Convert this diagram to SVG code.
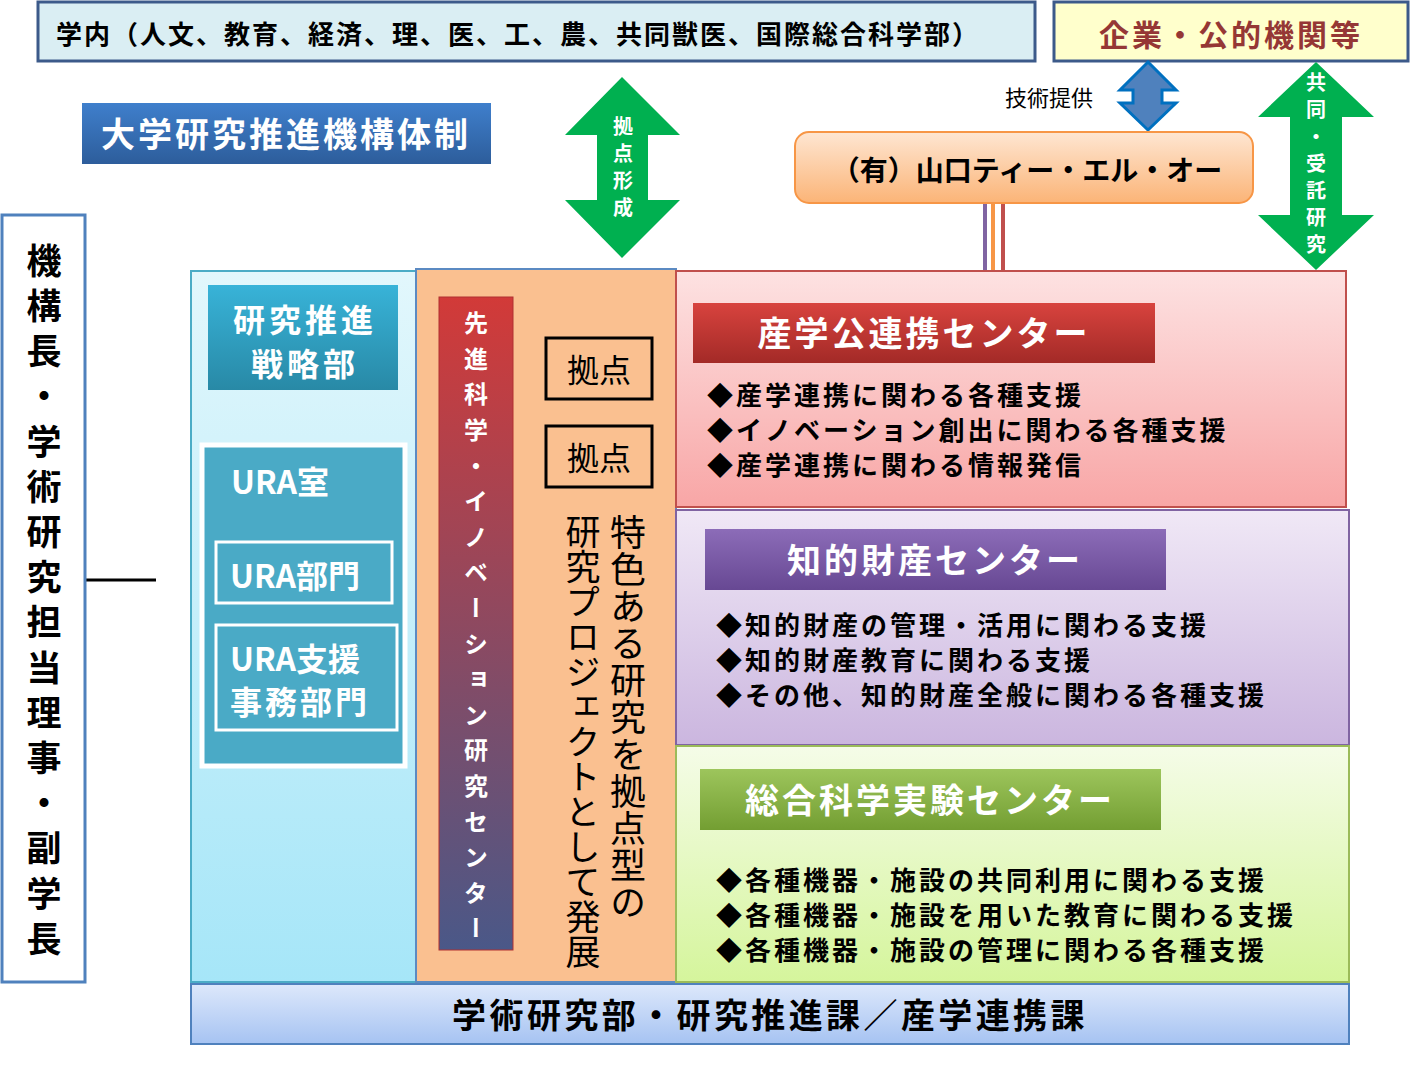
<svg xmlns="http://www.w3.org/2000/svg" width="1410" height="1069" viewBox="0 0 1410 1069">
<style>
text{font-family:"Noto Sans CJK JP","Noto Sans",sans-serif;font-weight:bold}
.v{writing-mode:vertical-rl;text-orientation:upright}
.w{fill:#fff}
.b{font-size:26px;fill:#000;letter-spacing:3px}
.t{font-size:34px;fill:#fff;text-anchor:middle;letter-spacing:3px}
</style>
<defs>
<linearGradient id="gBlue" x1="0" y1="0" x2="0" y2="1"><stop offset="0" stop-color="#3f7fcc"/><stop offset="1" stop-color="#2d5d9b"/></linearGradient>
<linearGradient id="gOr" x1="0" y1="0" x2="0" y2="1"><stop offset="0" stop-color="#fee6d2"/><stop offset="1" stop-color="#fbb477"/></linearGradient>
<linearGradient id="gLB" x1="0" y1="0" x2="0" y2="1"><stop offset="0" stop-color="#e2f7fc"/><stop offset="1" stop-color="#a6e6f8"/></linearGradient>
<linearGradient id="gTeal" x1="0" y1="0" x2="0" y2="1"><stop offset="0" stop-color="#38b3d8"/><stop offset="1" stop-color="#2889a6"/></linearGradient>
<linearGradient id="gRB" x1="0" y1="0" x2="0" y2="1"><stop offset="0" stop-color="#d23a38"/><stop offset="1" stop-color="#4a5888"/></linearGradient>
<linearGradient id="gRed" x1="0" y1="0" x2="0" y2="1"><stop offset="0" stop-color="#fde2e2"/><stop offset="1" stop-color="#f8a6a6"/></linearGradient>
<linearGradient id="gRedT" x1="0" y1="0" x2="0" y2="1"><stop offset="0" stop-color="#d8433e"/><stop offset="1" stop-color="#a32a27"/></linearGradient>
<linearGradient id="gPu" x1="0" y1="0" x2="0" y2="1"><stop offset="0" stop-color="#f0e8f6"/><stop offset="1" stop-color="#cbb6df"/></linearGradient>
<linearGradient id="gPuT" x1="0" y1="0" x2="0" y2="1"><stop offset="0" stop-color="#8c6cb8"/><stop offset="1" stop-color="#674893"/></linearGradient>
<linearGradient id="gGr" x1="0" y1="0" x2="0" y2="1"><stop offset="0" stop-color="#f5fce8"/><stop offset="1" stop-color="#d5f59c"/></linearGradient>
<linearGradient id="gGrT" x1="0" y1="0" x2="0" y2="1"><stop offset="0" stop-color="#9dc55c"/><stop offset="1" stop-color="#739e32"/></linearGradient>
<linearGradient id="gBot" x1="0" y1="0" x2="0" y2="1"><stop offset="0" stop-color="#dde8fb"/><stop offset="1" stop-color="#a6c3f2"/></linearGradient>
</defs>

<g id="gakunai"><rect x="38" y="2" width="997" height="59" fill="#daeef3" stroke="#3c5a8a" stroke-width="3"/>
<text x="56" y="44" font-size="26" style="letter-spacing:2px">学内（人文、教育、経済、理、医、工、農、共同獣医、国際総合科学部）</text></g>
<g id="kigyo"><rect x="1054" y="2" width="354" height="59" fill="#ffffcc" stroke="#3c5a8a" stroke-width="3"/>
<text x="1231" y="46" font-size="30" fill="#953735" text-anchor="middle" style="letter-spacing:3px">企業・公的機関等</text></g>
<g id="title"><rect x="82" y="103" width="409" height="61" fill="url(#gBlue)"/>
<text x="286" y="147" font-size="34" class="w" text-anchor="middle" style="letter-spacing:3px">大学研究推進機構体制</text></g>

<g id="connectors">
<polygon points="622,77 680,135 648,135 648,200 680,200 622,258 565,200 597,200 597,135 565,135" fill="#00b050"/>
<polygon points="1148,62 1176,90 1162,90 1162,103 1176,103 1148,130 1120,103 1133,103 1133,90 1120,90" fill="#4f81bd" stroke="#0070c0" stroke-width="3"/>
<polygon points="1316,62 1374,117 1342,117 1342,215 1374,215 1316,270 1258,215 1290,215 1290,117 1258,117" fill="#00b050"/>
<line x1="985" y1="203" x2="985" y2="270" stroke="#8064a2" stroke-width="4"/>
<line x1="993" y1="203" x2="993" y2="270" stroke="#f79646" stroke-width="4"/>
<line x1="1003" y1="203" x2="1003" y2="270" stroke="#c0504d" stroke-width="4"/>
<line x1="85" y1="580" x2="156" y2="580" stroke="#000" stroke-width="3"/>
</g>
<text x="623" y="116" font-size="20" class="v w" style="letter-spacing:7px">拠点形成</text>
<text x="1316" y="72" font-size="20" class="v w" style="letter-spacing:7px">共同・受託研究</text>
<text x="1005" y="106" font-size="22" style="font-weight:normal">技術提供</text>

<g id="tlo"><rect x="795" y="132" width="458" height="71" rx="14" fill="url(#gOr)" stroke="#f79646" stroke-width="2"/>
<text x="1027" y="181" font-size="28" text-anchor="middle">（有）山口ティー・エル・オー</text></g>

<g id="kikoucho"><rect x="2" y="215" width="83" height="767" fill="#fff" stroke="#4f81bd" stroke-width="3"/>
<text x="44" y="243" font-size="35" class="v" style="letter-spacing:10.2px">機構長・学術研究担当理事・副学長</text></g>

<g id="lightblue"><rect x="191" y="271" width="225" height="711" fill="url(#gLB)" stroke="#4bacc6" stroke-width="2"/></g>
<g id="senryaku"><rect x="208" y="285" width="190" height="105" fill="url(#gTeal)"/>
<text x="305" y="332" font-size="32" class="w" text-anchor="middle" style="letter-spacing:4px">研究推進</text>
<text x="305" y="376" font-size="32" class="w" text-anchor="middle" style="letter-spacing:4px">戦略部</text></g>
<g id="ura"><rect x="202" y="445" width="203" height="321" fill="#4aaac6" stroke="#fff" stroke-width="5"/>
<text x="231" y="494" font-size="32" class="w">URA室</text>
<rect x="216" y="542" width="176" height="61" fill="none" stroke="#fff" stroke-width="3"/>
<text x="230" y="588" font-size="32" class="w">URA部門</text>
<rect x="216" y="625" width="181" height="105" fill="none" stroke="#fff" stroke-width="3"/>
<text x="230" y="671" font-size="32" class="w">URA支援</text>
<text x="230" y="714" font-size="32" class="w" style="letter-spacing:3px">事務部門</text></g>

<g id="orangecol"><rect x="416" y="269" width="260" height="713" fill="#fac090" stroke="#5b8ac2" stroke-width="2"/>
<rect x="439" y="297" width="74" height="653" fill="url(#gRB)" stroke="#b03030" stroke-width="1"/>
<text x="476" y="311" font-size="24" class="v w" style="letter-spacing:11.6px">先進科学・イノベーション研究センター</text>
<rect x="546" y="338" width="106" height="61" fill="none" stroke="#000" stroke-width="3"/>
<text x="599" y="382" font-size="32" text-anchor="middle" style="font-weight:normal">拠点</text>
<rect x="546" y="426" width="106" height="61" fill="none" stroke="#000" stroke-width="3"/>
<text x="599" y="470" font-size="32" text-anchor="middle" style="font-weight:normal">拠点</text>
<text x="628" y="514" font-size="36" class="v" style="font-weight:normal;letter-spacing:1px">特色ある研究を拠点型の</text>
<text x="583" y="514" font-size="35" class="v" style="font-weight:normal;letter-spacing:0px">研究プロジェクトとして発展</text></g>

<g id="sangaku"><rect x="676" y="271" width="670" height="236" fill="url(#gRed)" stroke="#c0504d" stroke-width="2"/>
<rect x="693" y="303" width="462" height="60" fill="url(#gRedT)"/>
<text x="924" y="346" class="t">産学公連携センター</text>
<text x="707" y="405" class="b">◆産学連携に関わる各種支援</text>
<text x="707" y="440" class="b">◆イノベーション創出に関わる各種支援</text>
<text x="707" y="475" class="b">◆産学連携に関わる情報発信</text></g>

<g id="chizai"><rect x="676" y="510" width="673" height="235" fill="url(#gPu)" stroke="#8064a2" stroke-width="2"/>
<rect x="705" y="529" width="461" height="61" fill="url(#gPuT)"/>
<text x="935" y="573" class="t">知的財産センター</text>
<text x="716" y="635" class="b">◆知的財産の管理・活用に関わる支援</text>
<text x="716" y="670" class="b">◆知的財産教育に関わる支援</text>
<text x="716" y="705" class="b">◆その他、知的財産全般に関わる各種支援</text></g>

<g id="sougou"><rect x="676" y="746" width="673" height="236" fill="url(#gGr)" stroke="#9bbb59" stroke-width="2"/>
<rect x="700" y="769" width="461" height="61" fill="url(#gGrT)"/>
<text x="930" y="813" class="t">総合科学実験センター</text>
<text x="716" y="890" class="b">◆各種機器・施設の共同利用に関わる支援</text>
<text x="716" y="925" class="b">◆各種機器・施設を用いた教育に関わる支援</text>
<text x="716" y="960" class="b">◆各種機器・施設の管理に関わる各種支援</text></g>

<g id="bottom"><rect x="191" y="984" width="1158" height="60" fill="url(#gBot)" stroke="#4f81bd" stroke-width="2"/>
<text x="770" y="1028" font-size="34" text-anchor="middle" style="letter-spacing:3.4px">学術研究部・研究推進課／産学連携課</text></g>
</svg>
